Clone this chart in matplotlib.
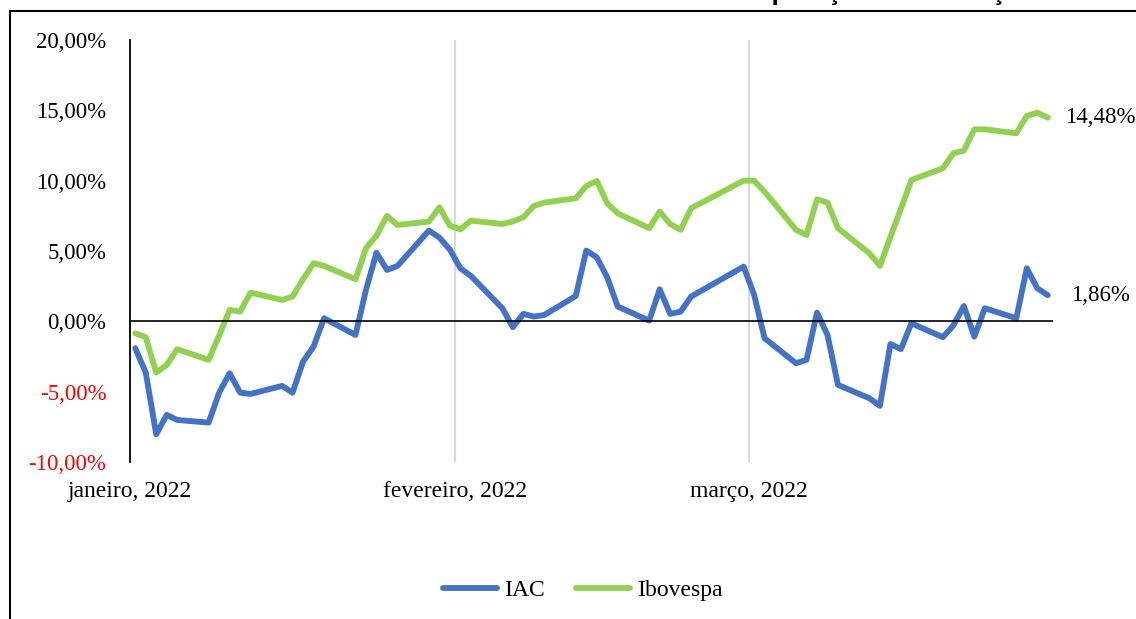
import numpy as np
import matplotlib
matplotlib.use("Agg")
import matplotlib.pyplot as plt
import matplotlib.dates as mdates
from matplotlib.patches import Rectangle
from matplotlib.ticker import FuncFormatter

# Trading days, Q1 2022
dates = [
    "2022-01-03", "2022-01-04", "2022-01-05", "2022-01-06", "2022-01-07",
    "2022-01-10", "2022-01-11", "2022-01-12", "2022-01-13", "2022-01-14",
    "2022-01-17", "2022-01-18", "2022-01-19", "2022-01-20", "2022-01-21",
    "2022-01-24", "2022-01-25", "2022-01-26", "2022-01-27", "2022-01-28",
    "2022-01-31", "2022-02-01", "2022-02-02", "2022-02-03", "2022-02-04",
    "2022-02-07", "2022-02-08", "2022-02-09", "2022-02-10", "2022-02-11",
    "2022-02-14", "2022-02-15", "2022-02-16", "2022-02-17", "2022-02-18",
    "2022-02-21", "2022-02-22", "2022-02-23", "2022-02-24", "2022-02-25",
    "2022-03-02", "2022-03-03", "2022-03-04",
    "2022-03-07", "2022-03-08", "2022-03-09", "2022-03-10", "2022-03-11",
    "2022-03-14", "2022-03-15", "2022-03-16", "2022-03-17", "2022-03-18",
    "2022-03-21", "2022-03-22", "2022-03-23", "2022-03-24", "2022-03-25",
    "2022-03-28", "2022-03-29", "2022-03-30", "2022-03-31",
]

# Accumulated return (%)
iac = [
    -1.91, -3.64, -8.03, -6.65, -7.01,
    -7.20, -5.07, -3.69, -5.07, -5.16,
    -4.59, -5.07, -2.86, -1.80, 0.22,
    -0.97, 2.24, 4.88, 3.65, 3.94,
    6.45, 5.95, 5.10, 3.77, 3.23,
    0.93, -0.42, 0.53, 0.34, 0.45,
    1.80, 5.03, 4.55, 3.13, 1.05,
    0.05, 2.28, 0.53, 0.69, 1.76,
    3.89, 1.90, -1.20,
    -2.98, -2.74, 0.62, -0.97, -4.52,
    -5.47, -6.01, -1.61, -1.98, -0.14,
    -1.13, -0.29, 1.09, -1.09, 0.93,
    0.22, 3.77, 2.35, 1.86,
]
ibovespa = [
    -0.85, -1.13, -3.64, -3.10, -1.98,
    -2.74, -1.00, 0.81, 0.69, 2.04,
    1.52, 1.76, 3.00, 4.13, 3.94,
    2.99, 5.20, 6.10, 7.49, 6.85,
    7.09, 8.11, 6.80, 6.54, 7.16,
    6.92, 7.10, 7.40, 8.20, 8.44,
    8.75, 9.62, 9.98, 8.39, 7.68,
    6.62, 7.80, 6.92, 6.50, 8.04,
    10.00, 10.00, 9.22,
    6.50, 6.14, 8.68, 8.44, 6.62,
    4.84, 3.94, 6.00, 8.00, 10.05,
    10.88, 11.95, 12.13, 13.65, 13.65,
    13.37, 14.60, 14.83, 14.48,
]

month_ticks = ["2022-01-03", "2022-02-03", "2022-03-03"]
month_labels = ["janeiro, 2022", "fevereiro, 2022", "março, 2022"]

BLUE = "#4472C4"
GREEN = "#92D050"

plt.rcParams["font.family"] = ["Liberation Serif", "DejaVu Serif"]

W, H = 1136, 619
fig = plt.figure(figsize=(W / 100, H / 100), dpi=100)

# Axes placed in pixel terms
left, right, top, bottom = 130, 1053, 40, 462
ax = fig.add_axes([left / W, 1 - bottom / H, (right - left) / W, (bottom - top) / H])

# Points sit in the middle of each day slot (Excel date axis)
x = np.array(dates, dtype="datetime64[h]") + np.timedelta64(12, "h")

ax.plot(x, iac, color=BLUE, lw=4.2, solid_joinstyle="round", solid_capstyle="round", label="IAC")
ax.plot(x, ibovespa, color=GREEN, lw=4.2, solid_joinstyle="round", solid_capstyle="round", label="Ibovespa")

ax.set_xlim(np.datetime64("2022-01-03"), np.datetime64("2022-04-01"))
ax.set_ylim(-10, 20)

ax.axhline(0, color="black", lw=1.2, zorder=3)

# month grid / labels
ticks = [mdates.date2num(np.datetime64(d)) for d in month_ticks]
ax.set_xticks(ticks)
ax.set_xticklabels(month_labels)
for t in ticks[1:]:
    ax.axvline(t, color="#d9d9d9", lw=1.6, zorder=0)

ax.set_yticks(np.arange(-10, 21, 5))
ax.yaxis.set_major_formatter(FuncFormatter(lambda v, p: f"{v:.2f}%".replace(".", ",")))
ax.tick_params(axis="y", length=0, pad=17, labelsize=16.5)
ax.tick_params(axis="x", length=0, pad=14, labelsize=17)
for lbl, v in zip(ax.get_yticklabels(), ax.get_yticks()):
    if v < 0:
        lbl.set_color("red")

for s in ["top", "right", "bottom"]:
    ax.spines[s].set_visible(False)
ax.spines["left"].set_linewidth(1.3)

# end labels
ax.annotate(f"{ibovespa[-1]:.2f}%".replace(".", ","), xy=(x[-1], ibovespa[-1]),
            xytext=(38, 0), textcoords="offset points", ha="center", va="center", fontsize=16.5)
ax.annotate(f"{iac[-1]:.2f}%".replace(".", ","), xy=(x[-1], iac[-1]),
            xytext=(38, 0), textcoords="offset points", ha="center", va="center", fontsize=16.5)

fig.legend(loc="center", bbox_to_anchor=(583 / W, 1 - 590 / H), ncol=2, frameon=False,
           fontsize=17, handlelength=2.3, columnspacing=1.3, handletextpad=0.3)

# outer frame (cut off at right and bottom) and title clipped above it
fig.patches.append(Rectangle((10 / W, -0.1), 1.2, 1.1 - 11 / H, transform=fig.transFigure,
                             fill=False, edgecolor="black", lw=1.5))
fig.text(713 / W, 1.0, "Comparação das Cotações", family="Liberation Sans",
         weight="bold", fontsize=19, ha="left", va="baseline")

fig.savefig("out.png", dpi=100)
